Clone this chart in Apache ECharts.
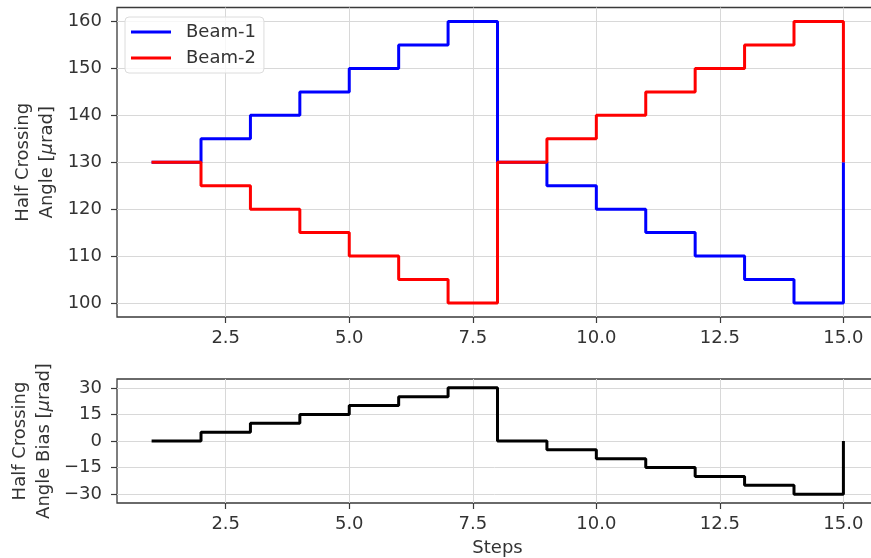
<!DOCTYPE html>
<html>
<head>
<meta charset="utf-8">
<script src="https://cdn.jsdelivr.net/npm/echarts@6/dist/echarts.min.js"></script>
<style>
  html, body { margin: 0; padding: 0; background: #fff; }
  #chart { width: 871px; height: 558px; }
</style>
</head>
<body>
<div id="chart"></div>
<script>
// Step index of each crossing-angle setting
const steps = [1, 2, 3, 4, 5, 6, 7, 8, 9, 10, 11, 12, 13, 14, 15];
// Half crossing angle per beam [µrad]
const beam1 = [130, 135, 140, 145, 150, 155, 160, 130, 125, 120, 115, 110, 105, 100, 130];
const beam2 = [130, 125, 120, 115, 110, 105, 100, 130, 135, 140, 145, 150, 155, 160, 130];
// Half crossing angle bias [µrad]
const bias = [0, 5, 10, 15, 20, 25, 30, 0, -5, -10, -15, -20, -25, -30, 0];

// Tick positions
const stepTicks = [2.5, 5, 7.5, 10, 12.5, 15];
const angleTicks = [100, 110, 120, 130, 140, 150, 160];
const biasTicks = [-30, -15, 0, 15, 30];

const pairs = ys => steps.map((x, i) => [x, ys[i]]);

const FONT = 'DejaVu Sans';
const FS = 18;
const TXT = '#333';
const GRIDC = '#d8d8d8';
const SPINE = '#3a3a3a';

const minus = v => (v < 0 ? '\u2212' + Math.abs(v) : String(v));

function xAxis(gridIndex, extra) {
  return Object.assign({
    type: 'value', gridIndex,
    min: 0.3, max: 15.7,
    axisLine: { show: false, onZero: false },
    axisTick: { show: true, customValues: stepTicks, length: 6, lineStyle: { color: SPINE, width: 1.2 } },
    axisLabel: { customValues: stepTicks, formatter: v => v.toFixed(1), color: TXT, fontFamily: FONT, fontSize: FS, margin: 12 },
    splitLine: { show: true, lineStyle: { color: GRIDC, width: 1 } }
  }, extra || {});
}

function yAxis(gridIndex, min, max, ticks, nameRich, gap) {
  return {
    type: 'value', gridIndex, min, max,
    axisLine: { show: false, onZero: false },
    axisTick: { show: true, customValues: ticks, length: 6, lineStyle: { color: SPINE, width: 1.2 } },
    axisLabel: { customValues: ticks, formatter: minus, color: TXT, fontFamily: FONT, fontSize: FS, margin: 15 },
    splitLine: { show: true, lineStyle: { color: GRIDC, width: 1 } },
    name: nameRich, nameLocation: 'middle', nameGap: gap, nameMoveOverlap: false,
    nameTextStyle: {
      color: TXT, fontFamily: FONT, fontSize: FS, lineHeight: 24,
      rich: {
        n: { color: TXT, fontFamily: FONT, fontSize: FS, lineHeight: 24 },
        i: { color: TXT, fontFamily: FONT, fontSize: FS, lineHeight: 24, fontStyle: 'italic' }
      }
    }
  };
}

const chart = echarts.init(document.getElementById('chart'), null, { renderer: 'canvas' });

chart.setOption({
  animation: false,
  backgroundColor: '#fff',
  grid: [
    { left: 117, width: 761, top: 7.5, height: 309.5, outerBoundsMode: 'none', containLabel: false,
      show: true, borderColor: SPINE, borderWidth: 1.3, backgroundColor: 'transparent' },
    { left: 117, width: 761, top: 379, height: 124, outerBoundsMode: 'none', containLabel: false,
      show: true, borderColor: SPINE, borderWidth: 1.3, backgroundColor: 'transparent' }
  ],
  legend: {
    data: ['Beam-1', 'Beam-2'],
    orient: 'vertical', left: 125, top: 17,
    icon: 'rect', itemWidth: 40, itemHeight: 3, itemGap: 8,
    padding: [6, 8, 6, 6],
    backgroundColor: 'rgba(255,255,255,0.8)', borderColor: '#dcdcdc', borderWidth: 1, borderRadius: 4,
    textStyle: { color: TXT, fontFamily: FONT, fontSize: FS, padding: [0, 0, 0, 10] }
  },
  xAxis: [
    xAxis(0),
    xAxis(1, { name: 'Steps', nameLocation: 'middle', nameGap: 36, nameMoveOverlap: false,
      nameTextStyle: { color: TXT, fontFamily: FONT, fontSize: FS } })
  ],
  yAxis: [
    yAxis(0, 97, 163, angleTicks, '{n|Half Crossing}\n{n|Angle [}{i|μ}{n|rad]}', 58),
    yAxis(1, -35, 35, biasTicks, '{n|Half Crossing}\n{n|Angle Bias [}{i|μ}{n|rad]}', 61)
  ],
  series: [
    { name: 'Beam-1', type: 'line', step: 'end', xAxisIndex: 0, yAxisIndex: 0, data: pairs(beam1),
      showSymbol: false, color: '#0000ff', lineStyle: { width: 3, color: '#0000ff' } },
    { name: 'Beam-2', type: 'line', step: 'end', xAxisIndex: 0, yAxisIndex: 0, data: pairs(beam2),
      showSymbol: false, color: '#ff0000', lineStyle: { width: 3, color: '#ff0000' } },
    { name: 'Bias', type: 'line', step: 'end', xAxisIndex: 1, yAxisIndex: 1, data: pairs(bias),
      showSymbol: false, color: '#000', lineStyle: { width: 3, color: '#000' } }
  ]
});
</script>
</body>
</html>
